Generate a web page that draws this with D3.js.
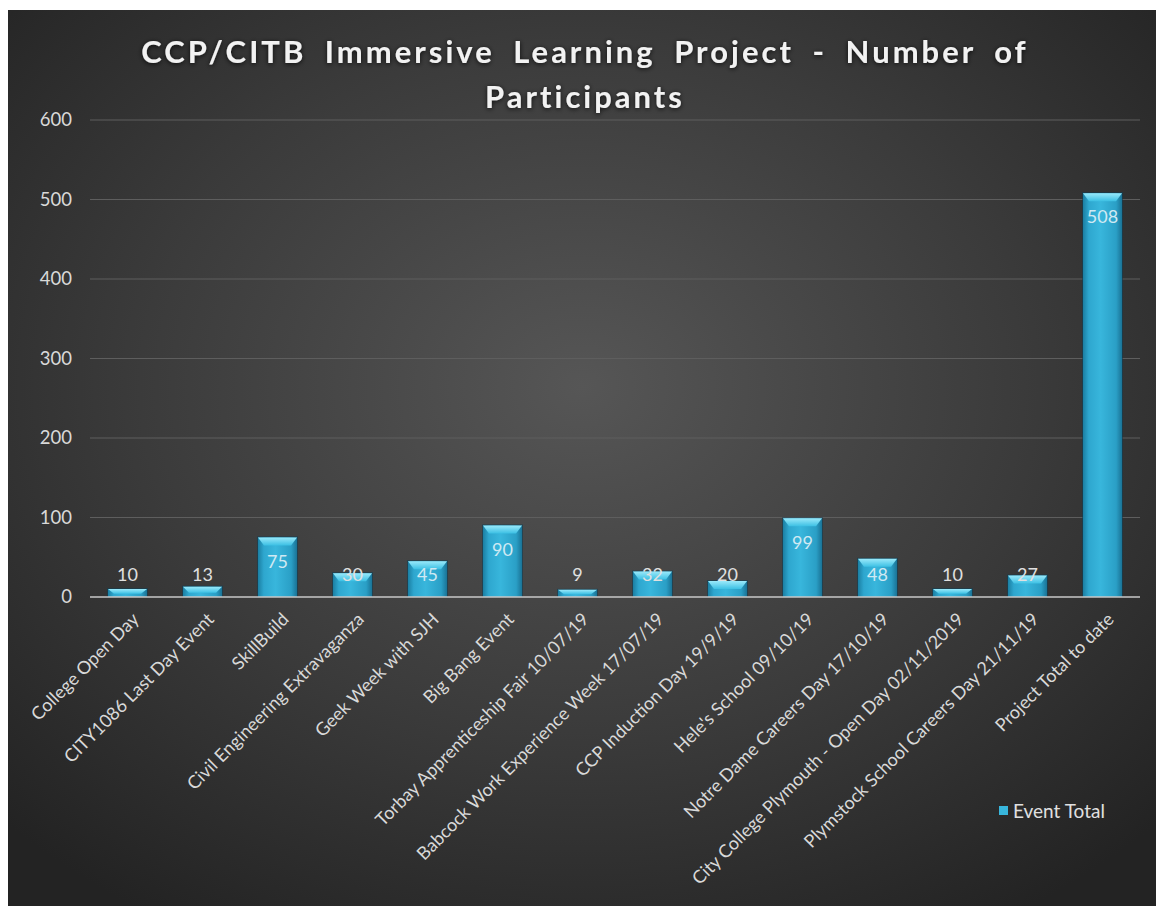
<!DOCTYPE html>
<html><head><meta charset="utf-8">
<script src="https://cdn.jsdelivr.net/npm/d3@7"></script>
<style>
html,body{margin:0;padding:0;background:#fff;}
svg{display:block;}
</style></head>
<body>
<script>
const categories = [
  "College Open Day",
  "CITY1086 Last Day Event",
  "SkillBuild",
  "Civil Engineering Extravaganza",
  "Geek Week with SJH",
  "Big Bang Event",
  "Torbay Apprenticeship Fair 10/07/19",
  "Babcock Work Experience Week 17/07/19",
  "CCP Induction Day 19/9/19",
  "Hele's School 09/10/19",
  "Notre Dame Careers Day 17/10/19",
  "City College Plymouth - Open Day 02/11/2019",
  "Plymstock School Careers Day 21/11/19",
  "Project Total to date"
];
const eventTotal = [10, 13, 75, 30, 45, 90, 9, 32, 20, 99, 48, 10, 27, 508];
const yTicks = [0, 100, 200, 300, 400, 500, 600];
const titleLines = ["CCP/CITB Immersive Learning Project - Number of", "Participants"];
const seriesName = "Event Total";

(function () {
const W = 1156, H = 906;
const FONT = "Lato, 'Open Sans', sans-serif";
const svg = d3.select("body").append("svg").attr("width", W).attr("height", H);
const defs = svg.append("defs");

const bg = defs.append("radialGradient").attr("id","bg").attr("cx","50%").attr("cy","42%").attr("r","70%");
bg.append("stop").attr("offset","0%").attr("stop-color","#565656");
bg.append("stop").attr("offset","55%").attr("stop-color","#3b3b3b");
bg.append("stop").attr("offset","100%").attr("stop-color","#232323");

const bar = defs.append("linearGradient").attr("id","barg").attr("x1","0").attr("x2","1").attr("y1","0").attr("y2","0");
bar.append("stop").attr("offset","0%").attr("stop-color","#1b7fa3");
bar.append("stop").attr("offset","15%").attr("stop-color","#2ea7cf");
bar.append("stop").attr("offset","45%").attr("stop-color","#38b6dc");
bar.append("stop").attr("offset","85%").attr("stop-color","#2a9fc6");
bar.append("stop").attr("offset","100%").attr("stop-color","#1a7396");

const topg = defs.append("linearGradient").attr("id","topg").attr("x1","0").attr("x2","0").attr("y1","0").attr("y2","1");
topg.append("stop").attr("offset","0%").attr("stop-color","#9ae9fa");
topg.append("stop").attr("offset","100%").attr("stop-color","#3cc0e4");

const glow = defs.append("filter").attr("id","glow").attr("x","-10%").attr("y","-30%").attr("width","120%").attr("height","160%");
glow.append("feGaussianBlur").attr("in","SourceAlpha").attr("stdDeviation","2.5").attr("result","b");
glow.append("feOffset").attr("in","b").attr("dx","0").attr("dy","1").attr("result","o");
glow.append("feFlood").attr("flood-color","#000").attr("flood-opacity","0.8");
glow.append("feComposite").attr("in2","o").attr("operator","in");
const gm = glow.append("feMerge"); gm.append("feMergeNode"); gm.append("feMergeNode").attr("in","SourceGraphic");

svg.append("rect").attr("x",8).attr("y",10).attr("width",W-8).attr("height",H-10).attr("fill","url(#bg)");

const pLeft = 90, pRight = 1140, pTop = 120, pBottom = 597;
const x = d3.scaleBand().domain(categories).range([pLeft, pRight]).paddingInner(0.48).paddingOuter(0.24);
const y = d3.scaleLinear().domain([0, 600]).range([pBottom, pTop]);

svg.append("g").selectAll("line").data(yTicks.filter(d => d > 0)).join("line")
  .attr("x1", pLeft).attr("x2", pRight).attr("y1", d => y(d)).attr("y2", d => y(d))
  .attr("stroke", "#5e5e5e").attr("stroke-width", 1);

const yAxis = d3.axisLeft(y).tickValues(yTicks).tickSize(0).tickPadding(0);
const gy = svg.append("g").attr("transform", `translate(72,0)`).call(yAxis);
gy.select(".domain").remove();
gy.selectAll("text").attr("fill", "#d9d9d9").attr("font-family", FONT).attr("font-size", 18.5);

const bw = x.bandwidth();
const bars = svg.append("g");
categories.forEach((c, i) => {
  const v = eventTotal[i];
  const x0 = x(c), yt = y(v), h = y(0) - yt;
  const g = bars.append("g");
  g.append("rect").attr("x", x0 - 1).attr("y", yt - 1).attr("width", bw + 2).attr("height", h + 1)
    .attr("fill", "#0f3f55").attr("opacity", 0.6);
  g.append("rect").attr("x", x0).attr("y", yt).attr("width", bw).attr("height", h).attr("fill", "url(#barg)");
  const bev = Math.min(8, h * 0.6);
  g.append("path")
    .attr("d", `M${x0},${yt} L${x0 + bw},${yt} L${x0 + bw - 6},${yt + bev} L${x0 + 6},${yt + bev} Z`)
    .attr("fill", "url(#topg)");
});

svg.append("line").attr("x1", pLeft).attr("x2", pRight).attr("y1", y(0)).attr("y2", y(0))
  .attr("stroke", "#c8c8c8").attr("stroke-width", 1.5);

svg.append("g").selectAll("text").data(categories).join("text")
  .attr("x", d => x(d) + bw / 2)
  .attr("y", (d, i) => Math.min(y(eventTotal[i]) + 24, y(0) - 22))
  .attr("dy", "0.35em")
  .attr("text-anchor", "middle")
  .attr("font-family", FONT).attr("font-size", 18)
  .attr("fill", (d, i) => (y(0) - y(eventTotal[i]) > 35 ? "#cfe9f3" : "#e0e0e0"))
  .text((d, i) => eventTotal[i]);

const xAxis = d3.axisBottom(x).tickSize(0).tickPadding(0);
const gx = svg.append("g").attr("transform", `translate(0,${y(0)})`).call(xAxis);
gx.select(".domain").remove();
gx.selectAll("text")
  .attr("fill", "#d9d9d9").attr("font-family", FONT).attr("font-size", 18)
  .attr("text-anchor", "end").attr("dy", "0.35em")
  .attr("transform", "translate(8,19) rotate(-45)");

const title = svg.append("text").attr("x", 585).attr("y", 63).attr("text-anchor", "middle")
  .attr("font-family", FONT).attr("font-weight", "bold").attr("font-size", 31)
  .attr("fill", "#f2f2f2").attr("letter-spacing", 3).attr("word-spacing", 8).attr("filter", "url(#glow)");
title.selectAll("tspan").data(titleLines).join("tspan")
  .attr("x", 585).attr("dy", (d, i) => i === 0 ? 0 : 45).text(d => d);

const lg = svg.append("g").attr("transform", "translate(999,811)");
lg.append("rect").attr("x", 0).attr("y", -5).attr("width", 9).attr("height", 9).attr("fill", "#38b6dc");
lg.append("text").attr("x", 14).attr("y", 0).attr("dy", "0.35em")
  .attr("font-family", FONT).attr("font-size", 19).attr("fill", "#e0e0e0").text(seriesName);
})();
</script>
</body></html>
